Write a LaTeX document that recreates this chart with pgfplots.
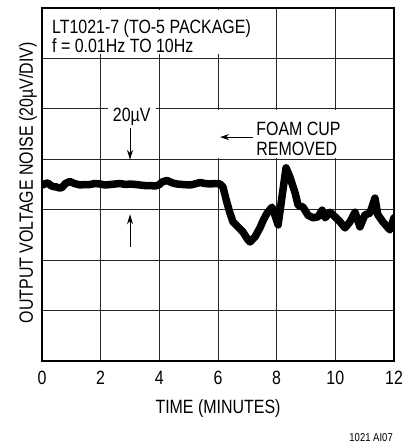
\documentclass[border=0pt]{standalone}
\usepackage{pgfplots}
\pgfplotsset{compat=1.18}
\usepackage{fontspec}
\setmainfont{Liberation Sans}[FakeStretch=0.83]
\usetikzlibrary{arrows.meta}
\begin{document}
\begin{tikzpicture}
\path[use as bounding box] (0bp,0bp) rectangle (404bp,444bp);
\begin{axis}[
  at={(42bp,83bp)}, anchor=south west,
  scale only axis, width=352bp, height=353bp,
  xmin=0, xmax=12, ymin=0, ymax=7,
  xtick={0,2,4,6,8,10,12}, ytick={0,1,2,3,4,5,6,7},
  yticklabel=\empty,
  grid=major,
  major grid style={black!85, line width=0.8bp},
  axis line style={line width=1.5bp},
  tick style={draw=none},
  font=\fontsize{19.3}{22}\selectfont,
  /pgf/number format/assume math mode=true,
  xticklabel style={yshift=-6.5bp},
  xlabel={TIME (MINUTES)},
  xlabel style={at={(axis description cs:0.5,-0.150)}, anchor=base},
  ylabel={OUTPUT VOLTAGE NOISE (20µV/DIV)},
  ylabel style={at={(axis description cs:-0.0256,0.505)}, anchor=base},
]
\fill[white] (axis cs:0.04,6.08) rectangle (axis cs:6.03,6.96);
\fill[white] (axis cs:5.97,4.03) rectangle (axis cs:10.03,4.97);
\addplot[black, line width=7.5bp, line join=round, line cap=round] coordinates {
(0.03,3.49) (0.12,3.52) (0.2,3.53) (0.3,3.48) (0.375,3.46) (0.5,3.45) (0.6,3.43) (0.68,3.44)
(0.8,3.52) (0.95,3.56) (1.1,3.52) (1.3,3.49) (1.45,3.50) (1.64,3.50) (1.8,3.52) (1.98,3.51)
(2.15,3.49) (2.32,3.50) (2.5,3.51) (2.66,3.52) (2.85,3.50) (3.0,3.51) (3.2,3.50) (3.34,3.49)
(3.5,3.48) (3.68,3.48) (3.85,3.47) (3.98,3.49) (4.1,3.55) (4.26,3.58) (4.45,3.53) (4.60,3.51)
(4.8,3.50) (5.05,3.49) (5.2,3.51) (5.39,3.54) (5.55,3.52) (5.73,3.51) (5.9,3.52) (6.07,3.51)
(6.17,3.45) (6.30,3.15) (6.41,2.93) (6.51,2.76) (6.68,2.66) (6.85,2.56) (7.0,2.42) (7.09,2.36)
(7.26,2.46) (7.43,2.64) (7.55,2.80) (7.67,2.93) (7.84,3.05) (7.94,2.89) (8.05,2.70) (8.18,3.25)
(8.32,3.83) (8.45,3.65) (8.63,3.33) (8.73,3.09) (8.90,3.05) (9.07,2.89) (9.24,2.84) (9.41,2.86)
(9.55,2.99) (9.65,2.84) (9.82,2.95) (9.99,2.86) (10.16,2.76) (10.33,2.64) (10.50,2.76) (10.67,2.95)
(10.84,2.66) (11.01,2.90) (11.18,2.93) (11.35,3.23) (11.45,2.90) (11.62,2.76) (11.86,2.60) (12.0,2.84)
};
\node[anchor=base west, inner sep=0pt] at (axis cs:0.34,6.50) {LT1021-7 (TO-5 PACKAGE)};
\node[anchor=base west, inner sep=0pt] at (axis cs:0.34,6.11) {f = 0.01Hz TO 10Hz};
\node[anchor=base west, inner sep=0pt] at (axis cs:7.30,4.47) {FOAM CUP};
\node[anchor=base west, inner sep=0pt] at (axis cs:7.30,4.075) {REMOVED};
\node[fill=white, inner xsep=5bp, inner ysep=1bp, anchor=base] at (axis cs:3.06,4.74) {20µV};
\draw[-{Stealth[length=9bp,width=6bp]}, line width=1bp] (axis cs:7.19,4.44) -- (axis cs:6.07,4.44);
\draw[-{Stealth[length=10bp,width=6bp]}, line width=1bp] (axis cs:3.0,4.62) -- (axis cs:3.0,3.99);
\draw[-{Stealth[length=10bp,width=6bp]}, line width=1bp] (axis cs:3.0,2.26) -- (axis cs:3.0,2.91);
\end{axis}
\node[anchor=base east, inner sep=0pt, font=\fontsize{11.5}{13}\selectfont] at (393bp,3bp) {1021 AI07};
\end{tikzpicture}
\end{document}
